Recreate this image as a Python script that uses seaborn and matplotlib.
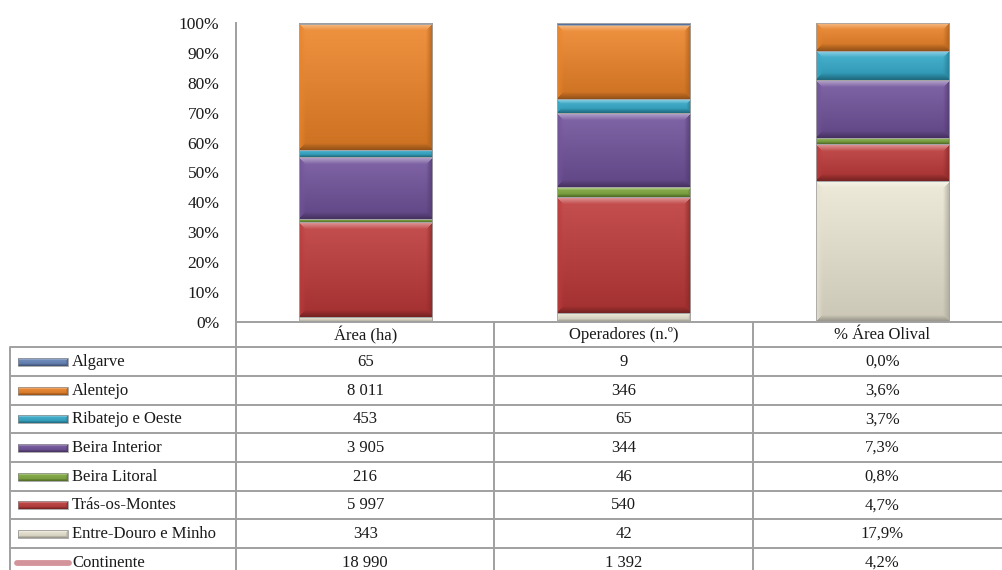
import numpy as np
import pandas as pd
import matplotlib
matplotlib.use("Agg")
import matplotlib.pyplot as plt
import matplotlib.colors as mcolors
from matplotlib.patches import Rectangle
import seaborn as sns

# ---- data ---------------------------------------------------------------
categories = ["Área (ha)", "Operadores (n.º)", "% Área Olival"]
regions = ["Algarve", "Alentejo", "Ribatejo e Oeste", "Beira Interior",
           "Beira Litoral", "Trás-os-Montes", "Entre-Douro e Minho"]
area_ha = [65, 8011, 453, 3905, 216, 5997, 343]
operadores = [9, 346, 65, 344, 46, 540, 42]
pct_area_olival = [0.0, 3.6, 3.7, 7.3, 0.8, 4.7, 17.9]
total_label = "Continente"
total_values = [18990, 1392, 4.2]
y_ticks = [0, 10, 20, 30, 40, 50, 60, 70, 80, 90, 100]

region_colors = ["#6585BA", "#EE8427", "#33ABCB", "#70519B",
                 "#80AA3E", "#BE3838", "#ECE7D4"]
total_color = "#D4959A"

# ---- styling ------------------------------------------------------------
sns.set_style("white")
plt.rcParams["font.family"] = ["Liberation Serif", "DejaVu Serif"]
TEXT = "#1a1a1a"
GRID = "#a0a0a0"

W_PX, H_PX = 1002, 570
fig = plt.figure(figsize=(W_PX / 100, H_PX / 100), dpi=100)

AX_L, AX_T, AX_B = 236.0, 23.0, 322.0
COL_W = 258.5
AX_R = AX_L + 3 * COL_W
ax = fig.add_axes([AX_L / W_PX, (H_PX - AX_B) / H_PX,
                   (AX_R - AX_L) / W_PX, (AX_B - AX_T) / H_PX])

# ---- 100 % stacked shares ----------------------------------------------
series = {"Área (ha)": area_ha, "Operadores (n.º)": operadores,
          "% Área Olival": pct_area_olival}
stack_order = regions[::-1]  # bottom to top
rows = []
for cat in categories:
    vals = dict(zip(regions, series[cat]))
    tot = sum(vals.values())
    lower = 0.0
    for reg in stack_order:
        share = vals[reg] / tot * 100.0
        rows.append({"cat": cat, "region": reg, "lower": lower,
                     "upper": lower + share})
        lower += share
df = pd.DataFrame(rows)

BAR_W = 0.515
# draw cumulative bars, tallest first, so each lower band overlays the one above
for reg, col in zip(regions, region_colors):
    sub = df[df["region"] == reg]
    sns.barplot(data=sub, x="cat", y="upper", order=categories, color=col,
                saturation=1, width=BAR_W, edgecolor="none", linewidth=0,
                ax=ax, zorder=1)

ax.set_xlim(-0.5, 2.5)
ax.set_ylim(0, 100)


def bevel_image(color, wpx, hpx, b):
    base = np.array(mcolors.to_rgb(color))
    H = max(int(round(hpx)), 1)
    W = max(int(round(wpx)), 1)
    yy, xx = np.mgrid[0:H, 0:W] + 0.5
    t = (yy / H)[..., None]
    light = base + (1 - base) * 0.12
    dark = base * 0.86
    img = light * (1 - t) + dark * t
    d = np.stack([yy, H - yy, xx, W - xx])
    nearest = d.argmin(0)
    mind = d.min(0)
    shades = [base + (1 - base) * 0.55, base * 0.58,
              base * 0.94 + 0.03, base * 0.72]
    fade = np.clip(1 - mind / max(b, 1e-6), 0, 1)[..., None]
    for k, sh in enumerate(shades):
        m = ((nearest == k) & (mind < b))[..., None]
        img = np.where(m, img * (1 - fade * 0.9) + sh * (fade * 0.9), img)
    return np.clip(img, 0, 1)


fig.canvas.draw()
to_px = ax.transData
for _, r in df.iterrows():
    if r["upper"] - r["lower"] <= 0:
        continue
    i = categories.index(r["cat"])
    x0, x1 = i - BAR_W / 2, i + BAR_W / 2
    (px0, py0), (px1, py1) = to_px.transform([(x0, r["lower"]), (x1, r["upper"])])
    hpx, wpx = abs(py1 - py0), abs(px1 - px0)
    b = min(7.0, hpx / 3.0)
    col = region_colors[regions.index(r["region"])]
    img = bevel_image(col, wpx, max(hpx, 1), b)
    ax.imshow(img, extent=(x0, x1, r["lower"], r["upper"]), origin="upper",
              aspect="auto", interpolation="bilinear", zorder=2)
    ax.add_patch(Rectangle((x0, r["lower"]), BAR_W, r["upper"] - r["lower"],
                           fill=False, edgecolor="#a5a5a5", linewidth=0.6,
                           zorder=3))

ax.set_xlim(-0.5, 2.5)
ax.set_ylim(0, 100)
ax.set_yticks(y_ticks)
ax.set_yticklabels([f"{v}%" for v in y_ticks])
ax.set_xticks([])
ax.set_xlabel("")
ax.set_ylabel("")
ax.tick_params(axis="y", length=0, pad=12, labelsize=12.5, labelcolor=TEXT)
for side in ("top", "right"):
    ax.spines[side].set_visible(False)
for side in ("left", "bottom"):
    ax.spines[side].set_color(GRID)
    ax.spines[side].set_linewidth(1.4)
ax.set_facecolor("none")

# ---- data table ---------------------------------------------------------
tax = fig.add_axes([0, 0, 1, 1], zorder=-1)
tax.set_xlim(0, W_PX)
tax.set_ylim(H_PX, 0)
tax.axis("off")

ROW0, ROW_H = 347.3, 28.65
TAB_L = 10.0
n_rows = len(regions) + 1
col_centers = [AX_L + COL_W * (k + 0.5) for k in range(3)]
FS = 12

for k in range(n_rows + 1):
    y = ROW0 + k * ROW_H
    tax.plot([TAB_L, W_PX], [y, y], color=GRID, lw=1.4, solid_capstyle="butt")
tax.plot([TAB_L, TAB_L], [ROW0, H_PX + 10], color=GRID, lw=1.4)
for k in range(3):
    x = AX_L + COL_W * k
    tax.plot([x, x], [AX_B, H_PX + 10], color=GRID, lw=1.4)

for cx, cat in zip(col_centers, categories):
    tax.text(cx, (AX_B + ROW0) / 2 + 0.5, cat, ha="center", va="center",
             fontsize=FS, color=TEXT)


def fmt_int(v):
    return f"{v:,}".replace(",", " ")


def fmt_pct(v):
    return f"{v:.1f}%".replace(".", ",")


table_rows = []
for j, reg in enumerate(regions):
    table_rows.append((reg, [fmt_int(area_ha[j]), fmt_int(operadores[j]),
                             fmt_pct(pct_area_olival[j])]))
table_rows.append((total_label, [fmt_int(total_values[0]),
                                 fmt_int(total_values[1]),
                                 fmt_pct(total_values[2])]))

KEY_X0, KEY_X1 = 18.0, 68.0
for k, (name, cells) in enumerate(table_rows):
    yc = ROW0 + ROW_H * (k + 0.5) + 0.5
    if k < len(regions):
        col = region_colors[k]
        img = bevel_image(col, KEY_X1 - KEY_X0, 8, 2.5)
        tax.imshow(img, extent=(KEY_X0, KEY_X1, yc + 4, yc - 4),
                   origin="upper", aspect="auto", interpolation="bilinear")
        tax.add_patch(Rectangle((KEY_X0, yc - 4), KEY_X1 - KEY_X0, 8,
                                fill=False, edgecolor="#8a8a8a", lw=0.5))
    else:
        tax.plot([KEY_X0 - 1, KEY_X1 + 1], [yc, yc], color=total_color,
                 lw=4.2, solid_capstyle="round")
    tax.text(72, yc, name, ha="left", va="center", fontsize=FS, color=TEXT)
    for cx, s in zip(col_centers, cells):
        tax.text(cx, yc, s, ha="center", va="center", fontsize=FS,
                 color=TEXT)

tax.set_xlim(0, W_PX)
tax.set_ylim(H_PX, 0)

fig.savefig("out.png", dpi=100, facecolor="white")
